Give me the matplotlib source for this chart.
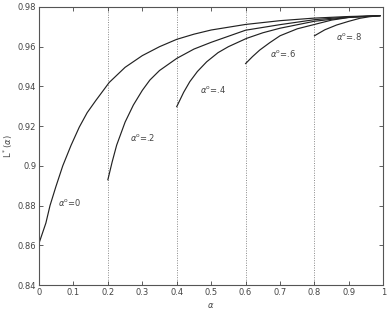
import matplotlib
matplotlib.use("Agg")
import matplotlib.pyplot as plt

# curve for alpha0 = 0
a0_x = [0.0, 0.02, 0.032, 0.049, 0.069, 0.093, 0.117, 0.14, 0.165, 0.204, 0.25, 0.3, 0.35, 0.4, 0.45, 0.5, 0.6, 0.7, 0.8, 0.9, 0.99]
a0_y = [0.861, 0.8712, 0.88, 0.8895, 0.90, 0.9103, 0.9195, 0.9268, 0.9329, 0.942, 0.9496, 0.9555, 0.9600, 0.9637, 0.9663, 0.9684, 0.9712, 0.9731, 0.9744, 0.9752, 0.9756]

# alpha0 = 0.2
a2_x = [0.2, 0.2125, 0.2255, 0.25, 0.274, 0.3, 0.322, 0.35, 0.4, 0.45, 0.5, 0.6, 0.7, 0.8, 0.9, 0.99]
a2_y = [0.893, 0.902, 0.9104, 0.922, 0.9306, 0.938, 0.9432, 0.948, 0.9541, 0.9588, 0.9622, 0.9683, 0.9711, 0.9736, 0.9750, 0.9756]

# alpha0 = 0.4
a4_x = [0.4, 0.42, 0.438, 0.46, 0.487, 0.52, 0.55, 0.603, 0.65, 0.7, 0.8, 0.9, 0.99]
a4_y = [0.9298, 0.937, 0.9424, 0.9475, 0.9524, 0.957, 0.960, 0.9642, 0.967, 0.9693, 0.9728, 0.9748, 0.9756]

# alpha0 = 0.6
a6_x = [0.6, 0.62, 0.641, 0.67, 0.7, 0.75, 0.8, 0.85, 0.9, 0.99]
a6_y = [0.9515, 0.955, 0.9583, 0.962, 0.9655, 0.9690, 0.9712, 0.9734, 0.9747, 0.9756]

# alpha0 = 0.8
a8_x = [0.8, 0.83, 0.864, 0.9, 0.932, 0.96, 0.99]
a8_y = [0.9655, 0.9685, 0.9709, 0.9728, 0.9743, 0.9751, 0.9756]

curves = [(a0_x, a0_y), (a2_x, a2_y), (a4_x, a4_y), (a6_x, a6_y), (a8_x, a8_y)]

labels = [r"$\alpha^{\rm o}$=0", r"$\alpha^{\rm o}$=.2", r"$\alpha^{\rm o}$=.4",
          r"$\alpha^{\rm o}$=.6", r"$\alpha^{\rm o}$=.8"]
label_x = [0.055, 0.264, 0.467, 0.670, 0.862]
label_y = [0.8817, 0.9145, 0.9382, 0.9568, 0.9649]

vlines = [0.2, 0.4, 0.6, 0.8]
xticks = [0, 0.1, 0.2, 0.3, 0.4, 0.5, 0.6, 0.7, 0.8, 0.9, 1]
xticklabels = ["0", "0.1", "0.2", "0.3", "0.4", "0.5", "0.6", "0.7", "0.8", "0.9", "1"]
yticks = [0.84, 0.86, 0.88, 0.9, 0.92, 0.94, 0.96, 0.98]
yticklabels = ["0.84", "0.86", "0.88", "0.9", "0.92", "0.94", "0.96", "0.98"]

plt.rcParams['mathtext.fontset'] = 'dejavusans'
fig = plt.figure(figsize=(3.88, 3.11), dpi=100)
ax = fig.add_axes([0.1005, 0.0836, 0.8875, 0.894])

for xv in vlines:
    ax.axvline(xv, color="#888888", linestyle=(0, (1, 1.5)), linewidth=0.7, zorder=1)

for xs, ys in curves:
    ax.plot(xs, ys, color="#222222", linewidth=0.85, zorder=2)

tc = "#444444"
for t, lx, ly in zip(labels, label_x, label_y):
    ax.text(lx, ly, t, fontsize=6, color=tc, ha="left", va="center")

ax.set_xlim(0, 1)
ax.set_ylim(0.84, 0.98)
ax.set_xticks(xticks)
ax.set_xticklabels(xticklabels)
ax.set_yticks(yticks)
ax.set_yticklabels(yticklabels)
ax.tick_params(direction="in", top=True, right=True, length=3, width=0.6,
               labelsize=6, labelcolor=tc, color="#444444", pad=2)
for s in ax.spines.values():
    s.set_color("#555555")
    s.set_linewidth(0.8)

ax.set_xlabel(r"$\alpha$", fontsize=6, color=tc, labelpad=3)
ax.set_ylabel(r"L$^*$($\alpha$)", fontsize=6, color=tc, labelpad=2)

fig.savefig("out.png", dpi=100)
